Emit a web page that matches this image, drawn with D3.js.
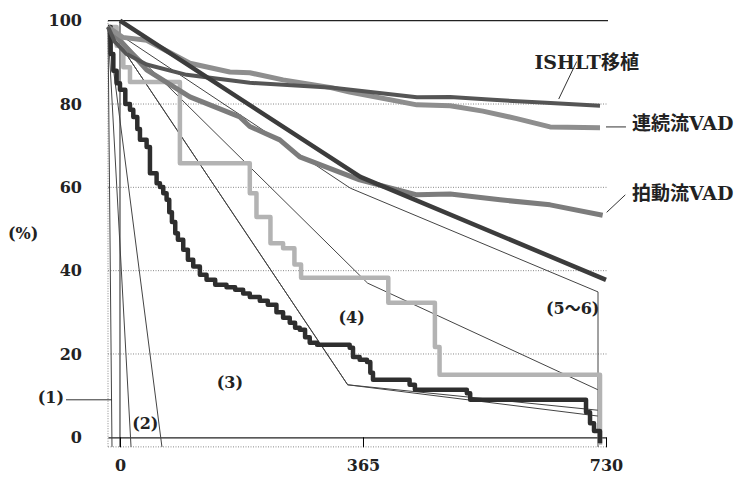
<!DOCTYPE html>
<html>
<head>
<meta charset="utf-8">
<script src="https://cdn.jsdelivr.net/npm/d3@7"></script>
<style>
  body { margin: 0; background: #fff; }
  text { font-family: "DejaVu Serif", "Noto Sans CJK JP", serif; font-weight: bold; fill: #222; }
  .tick-label { font-size: 16px; }
  .series-label { font-size: 19px; }
  .profile-label { font-size: 16px; }
</style>
</head>
<body>
<svg id="chart" width="738" height="477"></svg>
<script>
// axis values
var xTicks = [0, 365, 730];
var yTicks = [0, 20, 40, 60, 80, 100];
var gridValues = [20, 40, 60, 80];

// survival curves [day, %]
var ishltTx = [[-18, 98.5], [-8, 95], [10, 92], [40, 89.5], [100, 87], [195, 85.1], [320, 83.9],
  [446, 81.6], [496, 81.7], [560, 81], [640, 80.3], [721, 79.6]];
var contVad = [[-18, 98.5], [4, 96], [40, 95.3], [105, 89.8], [165, 87.7], [195, 87.5], [245, 85.8],
  [315, 84], [345, 82.9], [446, 79.8], [496, 79.6], [545, 78.3], [596, 76.5], [646, 74.5], [721, 74.3]];
var pulsVad = [[-18, 98.5], [40, 88.2], [105, 81.7], [180, 76.9], [195, 74.6], [240, 71.4], [270, 67.3],
  [360, 61.8], [446, 58.2], [496, 58.4], [571, 57], [646, 55.8], [725, 53.3]];
var trendLine = [[0, 100], [361, 62.5], [730, 37.8]];

// Kaplan-Meier style step curves
var darkKm = [[-18, 98.5], [-14, 92], [-10, 88], [-5, 85], [0, 83.4], [8, 80], [15, 78.6], [20, 76.9],
  [26, 74], [30, 71.4], [40, 69.7], [45, 63.4], [55, 61], [60, 60.1], [65, 58.6], [70, 57], [74, 54],
  [78, 51.7], [83, 49], [87, 47.4], [95, 45], [102, 42.6], [110, 41], [120, 39], [130, 37.8], [143, 36.6],
  [160, 36], [173, 35.4], [185, 34.5], [195, 33.7], [210, 32.8], [222, 31.8], [235, 30], [245, 28.7],
  [255, 27.5], [263, 26.3], [270, 25.8], [278, 24], [285, 22.7], [296, 22.2], [345, 21.5], [350, 19.3],
  [360, 18.6], [371, 18.1], [376, 15.5], [380, 13.8], [435, 12.6], [443, 11.4], [521, 10.6], [526, 9],
  [695, 9], [700, 6], [706, 3.4], [712, 1.5], [721, -1.4]];
var lightKm = [[-18, 98.5], [-5, 94], [5, 88.8], [15, 85.3], [90, 65.8], [195, 58.6], [205, 52.9],
  [226, 46.6], [245, 45.4], [262, 41.5], [272, 38.3], [403, 32.3], [473, 21.7], [480, 15], [721, -1.8]];

// INTERMACS profile outlines
var prof1 = [[-18, 98.5], [-12, -2.3]];
var prof2L = [[-18, 98.5], [16.6, -2.3]];
var prof2R = [[-18, 98.5], [63, -2.3]];
var prof3 = [[-18, 98.5], [342, 12.6], [718, 5.1]];
var prof4L = [[-18, 98.5], [342, 12.6], [718, 6.5]];
var prof4R = [[-18, 98.5], [372, 37], [718, 11.4]];
var prof56 = [[-18, 98.5], [346, 59.8], [718, 34.9], [718, -2.3]];

var svg = d3.select("#chart");

var x = d3.scaleLinear().domain([-18, 730]).range([108, 606]);
var y = d3.scaleLinear().domain([0, 100]).range([437.3, 20.7]);
var yBase = -2.3;

// grid
svg.selectAll(".grid")
  .data(gridValues.concat([yBase]))
  .enter().append("line")
  .attr("x1", x(-18)).attr("x2", x(730) + 2)
  .attr("y1", function (d) { return y(d); })
  .attr("y2", function (d) { return y(d); })
  .attr("stroke", "#888").attr("stroke-width", 1)
  .attr("stroke-dasharray", "1,1.5");

svg.append("line")
  .attr("x1", x(-18)).attr("x2", x(-18))
  .attr("y1", y(100)).attr("y2", y(yBase))
  .attr("stroke", "#888").attr("stroke-dasharray", "1,1.5");

svg.append("line")
  .attr("x1", x(-18)).attr("x2", x(730) + 2)
  .attr("y1", y(100)).attr("y2", y(100))
  .attr("stroke", "#222").attr("stroke-width", 1.2);

svg.append("line")
  .attr("x1", x(0)).attr("x2", x(0))
  .attr("y1", y(100)).attr("y2", y(yBase))
  .attr("stroke", "#333").attr("stroke-width", 1.1);

// axes
var xAxis = svg.append("g")
  .attr("transform", "translate(0," + y(0) + ")")
  .call(d3.axisBottom(x).tickValues(xTicks).tickSize(10).tickSizeOuter(0).tickPadding(12));
xAxis.select(".domain").attr("stroke", "#222").attr("stroke-width", 1.2);
xAxis.selectAll("text").attr("class", "tick-label");

var yAxis = svg.append("g")
  .attr("transform", "translate(" + x(0) + ",0)")
  .call(d3.axisLeft(y).tickValues(yTicks).tickSize(0).tickPadding(38));
yAxis.select(".domain").remove();
yAxis.selectAll("text").attr("class", "tick-label");

var line = d3.line().x(function (d) { return x(d[0]); }).y(function (d) { return y(d[1]); });
var stepLine = d3.line().curve(d3.curveStepAfter)
  .x(function (d) { return x(d[0]); }).y(function (d) { return y(d[1]); });

// thin profile lines
[prof1, prof2L, prof2R, prof3, prof4L, prof4R, prof56].forEach(function (p) {
  svg.append("path").attr("d", line(p))
    .attr("fill", "none").attr("stroke", "#444").attr("stroke-width", 1);
});

// thick curves
var thick = [
  { data: lightKm, gen: stepLine, color: "#b3b3b3", w: 4.5 },
  { data: darkKm, gen: stepLine, color: "#2e2e2e", w: 4.5 },
  { data: pulsVad, gen: line, color: "#7c7c7c", w: 5 },
  { data: contVad, gen: line, color: "#8e8e8e", w: 5 },
  { data: ishltTx, gen: line, color: "#555", w: 4 },
  { data: trendLine, gen: line, color: "#3c3c3c", w: 4.5 }
];
thick.forEach(function (s) {
  svg.append("path").attr("d", s.gen(s.data))
    .attr("fill", "none").attr("stroke", s.color).attr("stroke-width", s.w)
    .attr("stroke-linejoin", "round");
});

// labels
svg.append("text").attr("class", "tick-label")
  .attr("x", 8).attr("y", y(49)).attr("dy", "0.35em").text("(%)");

svg.append("text").attr("class", "profile-label")
  .attr("x", 64).attr("y", y(9.5)).attr("dy", "0.35em").attr("text-anchor", "end").text("(1)");
svg.append("line")
  .attr("x1", 66).attr("x2", x(-12)).attr("y1", y(9)).attr("y2", y(9))
  .attr("stroke", "#333").attr("stroke-width", 1);

var profLabels = [["(2)", 38, 3.4], ["(3)", 165, 13.1], ["(4)", 348, 28.9], ["(5～6)", 680, 31]];
profLabels.forEach(function (l) {
  svg.append("text").attr("class", "profile-label")
    .attr("x", x(l[1])).attr("y", y(l[2])).attr("dy", "0.35em")
    .attr("text-anchor", "middle").text(l[0]);
});

svg.append("text").attr("class", "series-label")
  .attr("x", x(701)).attr("y", y(90)).attr("dy", "0.35em").attr("text-anchor", "middle").text("ISHLT移植");
svg.append("line")
  .attr("x1", x(686)).attr("y1", y(90.2)).attr("x2", x(659)).attr("y2", y(81.2))
  .attr("stroke", "#333").attr("stroke-width", 1);

svg.append("text").attr("class", "series-label")
  .attr("x", x(769)).attr("y", y(75.4)).attr("dy", "0.35em").text("連続流VAD");
svg.append("line")
  .attr("x1", x(730)).attr("y1", y(74.5)).attr("x2", x(760)).attr("y2", y(74.5))
  .attr("stroke", "#333").attr("stroke-width", 1);

svg.append("text").attr("class", "series-label")
  .attr("x", x(769)).attr("y", y(58.6)).attr("dy", "0.35em").text("拍動流VAD");
svg.append("line")
  .attr("x1", x(731)).attr("y1", y(54)).attr("x2", x(759)).attr("y2", y(58.2))
  .attr("stroke", "#333").attr("stroke-width", 1);
</script>
</body>
</html>
